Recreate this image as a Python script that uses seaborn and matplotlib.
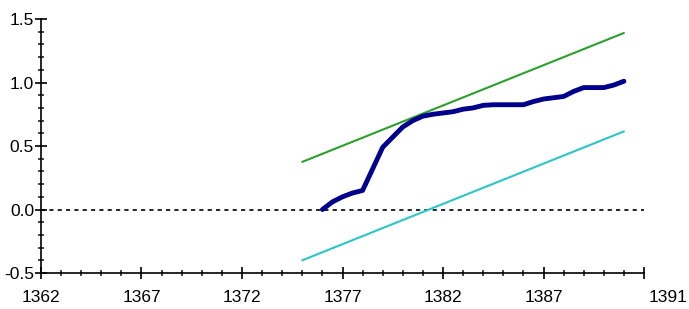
"""Recursive-residual style chart: cumulative series with two straight bounds."""

import matplotlib

matplotlib.use("Agg")

import matplotlib.pyplot as plt
import matplotlib.transforms as mtransforms
import numpy as np
import pandas as pd
import seaborn as sns

# Cumulative series (thick navy line).
series_years = [
    1376, 1376.5, 1377, 1377.5, 1378, 1378.5, 1379, 1379.5, 1380, 1380.5,
    1381, 1381.5, 1382, 1382.5, 1383, 1383.5, 1384, 1384.5, 1385, 1385.5,
    1386, 1386.5, 1387, 1387.5, 1388, 1388.5, 1389, 1389.5, 1390, 1390.5, 1391,
]
series_values = [
    0.00, 0.06, 0.10, 0.13, 0.15, 0.32, 0.49, 0.57, 0.65, 0.70,
    0.735, 0.75, 0.76, 0.77, 0.79, 0.80, 0.82, 0.825, 0.825, 0.825,
    0.825, 0.85, 0.87, 0.88, 0.89, 0.93, 0.96, 0.96, 0.96, 0.98, 1.01,
]

# Upper (green) and lower (cyan) bounds.
bound_years = [1375, 1391]
upper_values = [0.375, 1.39]
lower_values = [-0.40, 0.615]

x_ticks = [1362, 1367, 1372, 1377, 1382, 1387, 1392]
x_tick_labels = ["1362", "1367", "1372", "1377", "1382", "1387", "1391"]
y_ticks = [-0.5, 0.0, 0.5, 1.0, 1.5]

sns.set_theme(style="ticks")
plt.rcParams["font.family"] = ["Liberation Sans", "DejaVu Sans"]

fig = plt.figure(figsize=(6.89, 3.09), dpi=100)
ax = fig.add_axes([0.0595, 0.1165, 0.8752, 0.822])

bounds = pd.DataFrame({"year": bound_years, "upper": upper_values, "lower": lower_values})
series = pd.DataFrame({"year": series_years, "value": series_values})

ax.axhline(0.0, color="black", linestyle=(0, (2.5, 2.5)), linewidth=1.2, zorder=1)
sns.lineplot(data=bounds, x="year", y="upper", color="#2ca02c", linewidth=1.5, ax=ax)
sns.lineplot(data=bounds, x="year", y="lower", color="#2bc6c6", linewidth=1.5, ax=ax)
sns.lineplot(data=series, x="year", y="value", color="#00008b", linewidth=3.5, ax=ax)

ax.set_xlim(x_ticks[0], x_ticks[-1])
ax.set_ylim(y_ticks[0], y_ticks[-1])
ax.set_xticks(x_ticks)
ax.set_xticklabels(x_tick_labels)
ax.set_xticks(np.arange(x_ticks[0], x_ticks[-1] + 1, 1), minor=True)
ax.set_yticks(y_ticks)
ax.set_yticklabels([f"{v:.1f}" for v in y_ticks])
ax.set_yticks(np.arange(-0.5, 1.51, 0.1), minor=True)
ax.set_xlabel("")
ax.set_ylabel("")

ax.tick_params(axis="both", which="major", direction="inout", length=8, width=1.2,
               labelsize=12.5, colors="black")
ax.tick_params(axis="x", which="major", pad=8)
ax.tick_params(axis="y", which="major", pad=1)
ax.tick_params(axis="both", which="minor", direction="inout", length=5, width=1.2)
for side in ("top", "right"):
    ax.spines[side].set_visible(False)
for side in ("left", "bottom"):
    ax.spines[side].set_linewidth(1.2)
    ax.spines[side].set_color("black")

# The last x label sits to the right of its tick in the original.
last = ax.get_xticklabels()[-1]
last.set_transform(last.get_transform()
                   + mtransforms.ScaledTranslation(24 / 100, 0, fig.dpi_scale_trans))

fig.savefig("out.png", dpi=100)
